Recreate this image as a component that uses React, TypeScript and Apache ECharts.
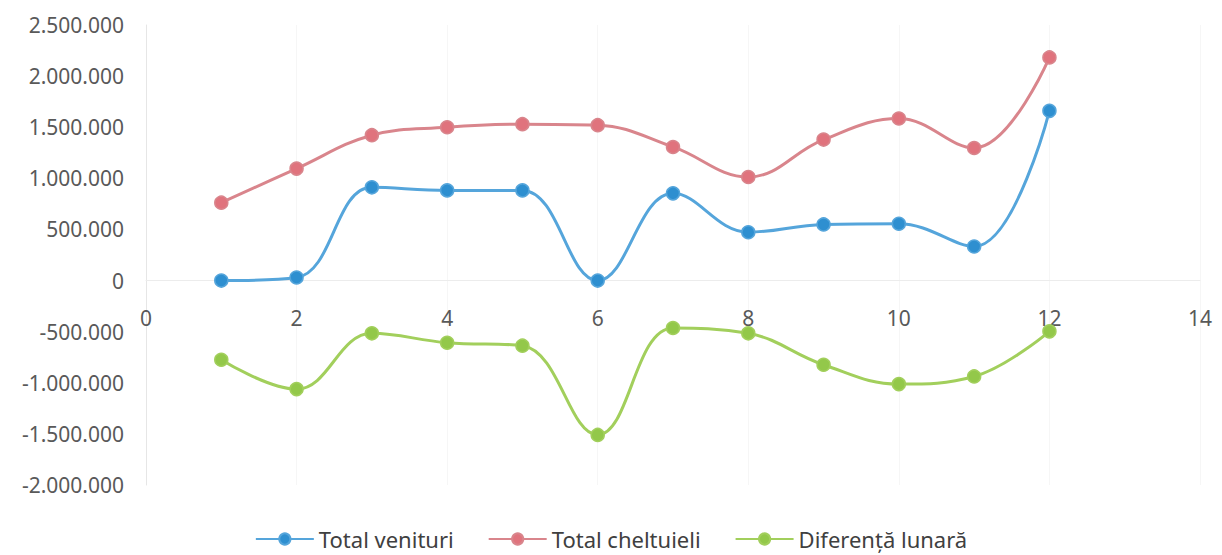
import React, { useEffect, useRef } from "react";
import * as echarts from "echarts";

const months = [1, 2, 3, 4, 5, 6, 7, 8, 9, 10, 11, 12];
const totalVenituri = [0, 30000, 912000, 882000, 882000, 0, 853000, 473000, 549000, 556000, 333000, 1660000];
const totalCheltuieli = [762000, 1095000, 1422000, 1500000, 1530000, 1520000, 1307000, 1013000, 1379000, 1585000, 1297000, 2183000];
const diferentaLunara = [-775000, -1062000, -516000, -608000, -637000, -1510000, -464000, -516000, -824000, -1013000, -938000, -497000];
const seriesNames = ["Total venituri", "Total cheltuieli", "Diferență lunară"];

const FONT = "'Liberation Sans Narrow', 'Noto Sans', sans-serif";

function fmt(v: number): string {
  const s = Math.abs(v).toString().replace(/\B(?=(\d{3})+(?!\d))/g, ".");
  return (v < 0 ? "-" : "") + s;
}

function pairs(vals: number[]) {
  return months.map((m, i) => [m, vals[i]]);
}

export default function App() {
  const ref = useRef<HTMLDivElement>(null);
  useEffect(() => {
    if (!ref.current) return;
    const chart = echarts.init(ref.current, undefined, { renderer: "svg" });
    const mk = (name: string, data: number[], line: string, marker: string) => ({
      name,
      type: "line",
      smooth: 0.4,
      data: pairs(data),
      symbol: "circle",
      symbolSize: 13,
      lineStyle: { color: line, width: 3 },
      itemStyle: { color: marker, borderColor: line, borderWidth: 1.5 },
    });
    chart.setOption({
      animation: false,
      backgroundColor: "#ffffff",
      textStyle: { fontFamily: FONT },
      grid: { left: 146, right: 22, top: 25, bottom: 70, containLabel: false },
      legend: {
        top: 527,
        left: "center",
        padding: 0,
        itemWidth: 58,
        itemHeight: 14,
        itemGap: 34,
        textStyle: { fontSize: 22, lineHeight: 24, color: "#404040", fontFamily: FONT },
        data: seriesNames,
      },
      xAxis: {
        type: "value",
        min: 0,
        max: 14,
        interval: 2,
        position: "bottom",
        offset: -205,
        axisLine: { show: true, onZero: false, lineStyle: { color: "#ececec", width: 1 } },
        axisTick: { show: false },
        axisLabel: { margin: 27, fontSize: 21, color: "#595959", fontFamily: FONT },
        splitLine: { show: true, lineStyle: { color: "#f6f6f6", width: 1 } },
      },
      yAxis: {
        type: "value",
        min: -2000000,
        max: 2500000,
        interval: 500000,
        axisLine: { show: true, onZero: false, lineStyle: { color: "#e6e6e6", width: 1 } },
        axisTick: { show: false },
        axisLabel: {
          margin: 22,
          fontSize: 21,
          color: "#595959",
          fontFamily: FONT,
          formatter: (v: number) => fmt(v),
        },
        splitLine: { show: false },
      },
      series: [
        mk(seriesNames[0], totalVenituri, "#55a5db", "#2e8fd0"),
        mk(seriesNames[1], totalCheltuieli, "#d9858c", "#e0737d"),
        mk(seriesNames[2], diferentaLunara, "#a2cf5c", "#93c84a"),
      ],
    });
    return () => chart.dispose();
  }, []);
  return (
    <div
      ref={ref}
      style={{ position: "absolute", left: 0, top: 0, width: 1222, height: 555 }}
    />
  );
}
